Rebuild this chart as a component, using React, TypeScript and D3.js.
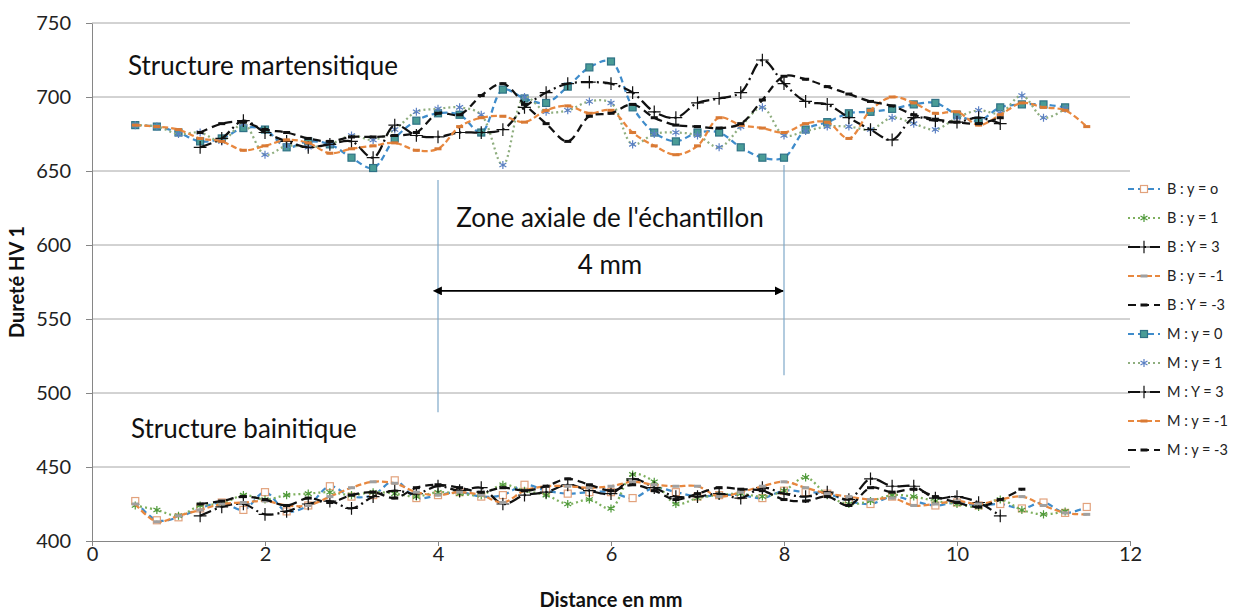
import { useEffect, useRef } from "react";
import * as d3 from "d3";

// distance (mm) of each hardness measurement
const DISTANCE = [
    0.5, 0.75, 1, 1.25, 1.5, 1.75, 2, 2.25, 2.5, 2.75, 3, 3.25, 3.5, 3.75, 4, 4.25,
    4.5, 4.75, 5, 5.25, 5.5, 5.75, 6, 6.25, 6.5, 6.75, 7, 7.25, 7.5, 7.75, 8, 8.25,
    8.5, 8.75, 9, 9.25, 9.5, 9.75, 10, 10.25, 10.5, 10.75, 11, 11.25, 11.5,
];

// bainitic structure
const B_Y0 = [427, 414, 416, 422, 426, 421, 433, 420, 424, 437, 430, 431, 441, 429, 431, 433, 430, 431, 438, 434, 432, 433, 433, 429, 436, 433, 430, 431, 431, 429, 434, 433, 432, 427, 425, 430, 427, 424, 426, 424, 425, 422, 426, 419, 423];
const B_Y1 = [424, 421, 417, 424, 425, 431, 428, 431, 432, 433, 431, 433, 432, 430, 433, 432, 431, 438, 434, 431, 425, 428, 422, 445, 440, 425, 429, 431, 432, 430, 434, 443, 431, 425, 427, 431, 430, 427, 425, 423, 428, 421, 418, 420, null];
const B_Y3 = [null, null, null, 417, 423, 425, 418, 420, 425, 427, 422, 430, 434, 432, 437, 434, 436, 425, 431, 433, 438, 434, 432, 442, 436, 430, 430, 432, 429, 436, 432, 430, 433, 428, 442, 437, 437, 429, 430, 426, 417, null, null, null, null];
const B_YM1 = [425, 413, 417, 421, 425, 426, 427, 424, 424, 430, 436, 440, 439, 433, 431, 433, 431, 426, 434, 437, 437, 436, 437, 440, 438, 437, 437, 430, 433, 437, 440, 436, 432, 430, 428, 429, 424, 425, 427, 425, 428, 430, 424, 419, 418];
const B_YM3 = [null, null, null, 425, 427, 430, 428, 424, 429, 426, 431, 433, 429, 436, 438, 436, 433, 436, 434, 437, 442, 438, 434, 438, 434, 428, 432, 436, 435, 434, 428, 427, 430, 424, 436, 433, 435, 430, 426, 423, 428, 435, null, null, null];

// martensitic structure
const M_Y0 = [681, 680, 676, 670, 672, 679, 678, 666, 670, 668, 659, 652, 672, 684, 689, 688, 676, 705, 699, 696, 707, 720, 724, 693, 676, 670, 676, 676, 666, 659, 659, 678, 683, 689, 690, 692, 695, 696, 688, 684, 693, 695, 695, 693, null];
const M_Y1 = [681, 680, 675, 676, 670, 682, 661, 667, 666, 668, 674, 671, 678, 690, 692, 693, 688, 654, 700, 690, 691, 697, 696, 668, 675, 676, 674, 666, 680, 693, 674, 677, 680, 680, 678, 686, 682, 678, 686, 691, 689, 701, 686, 692, null];
const M_Y3 = [null, null, null, 666, 672, 684, 676, 670, 666, 668, 670, 659, 681, 674, 673, 676, 676, 678, 693, 703, 709, 710, 709, 703, 690, 686, 696, 699, 703, 725, 709, 697, 695, 686, 678, 671, 686, 684, 683, 686, 682, null, null, null, null];
const M_YM1 = [681, 680, 678, 672, 670, 664, 667, 671, 669, 662, 665, 667, 669, 664, 665, 680, 686, 687, 683, 691, 694, 689, 691, 676, 667, 661, 667, 686, 681, 679, 676, 682, 683, 672, 691, 700, 696, 689, 690, 681, 688, 696, 693, 691, 680];
const M_YM3 = [null, null, null, 676, 682, 683, 678, 676, 672, 670, 673, 673, 674, 676, 689, 688, 701, 709, 695, 682, 670, 687, 689, 695, 686, 681, 680, 679, 682, 698, 714, 712, 707, 702, 697, 694, 688, 685, 683, 682, 686, null, null, null, null];

const SERIES_NAMES = ["B : y = o", "B : y = 1", "B : Y = 3", "B : y = -1", "B : Y = -3", "M : y = 0", "M : y = 1", "M : Y = 3", "M : y = -1", "M : y = -3"];
const SERIES_VALUES = [B_Y0, B_Y1, B_Y3, B_YM1, B_YM3, M_Y0, M_Y1, M_Y3, M_YM1, M_YM3];

const Y_TICKS = [400, 450, 500, 550, 600, 650, 700, 750];
const X_TICKS = [0, 2, 4, 6, 8, 10, 12];

const FONT = "Lato, 'Open Sans', sans-serif";

// line + marker style per series
const STYLES = [
    { color: "#3f8ccb", dash: "6,4", marker: "square", mColor: "#e2a27c", mFill: "#fff" },
    { color: "#7fb05f", dash: "2,3", marker: "asterisk", mColor: "#4f9a3a", mFill: "none" },
    { color: "#111", dash: "12,4,2,4", marker: "plus", mColor: "#111", mFill: "none" },
    { color: "#e8883f", dash: "6,3", marker: "bar", mColor: "#a0a0a0", mFill: "#a0a0a0" },
    { color: "#111", dash: "8,5", marker: "bar", mColor: "#111", mFill: "#111" },
    { color: "#3f8ccb", dash: "6,4", marker: "square", mColor: "#2f7286", mFill: "#4a9c96" },
    { color: "#8fae7f", dash: "2,3", marker: "asterisk", mColor: "#5b80c4", mFill: "none" },
    { color: "#111", dash: "12,4,2,4", marker: "plus", mColor: "#111", mFill: "none" },
    { color: "#e8883f", dash: "6,3", marker: "bar", mColor: "#d97a35", mFill: "#d97a35" },
    { color: "#111", dash: "8,5", marker: "bar", mColor: "#111", mFill: "#111" },
];

export default function App() {
    const svgRef = useRef<SVGSVGElement>(null);

    useEffect(() => {
        if (!svgRef.current) return;
        const svg = d3.select(svgRef.current);
        svg.selectAll("*").remove();

        const width = 1239;
        const height = 612;
        const plot = { left: 92, right: 1130, top: 23, bottom: 541 };

        const x = d3.scaleLinear().domain([0, 12]).range([plot.left, plot.right]);
        const y = d3.scaleLinear().domain([400, 750]).range([plot.bottom, plot.top]);

        svg.append("rect").attr("width", width).attr("height", height).style("fill", "#fff");

        // arrowheads
        const defs = svg.append("defs");
        ["start", "end"].forEach((k) => {
            defs.append("marker")
                .attr("id", `arrow-${k}`)
                .attr("viewBox", "0 0 10 10")
                .attr("refX", k === "end" ? 9 : 1)
                .attr("refY", 5)
                .attr("markerWidth", 9)
                .attr("markerHeight", 9)
                .attr("markerUnits", "userSpaceOnUse")
                .attr("orient", "auto-start-reverse")
                .append("path")
                .attr("d", "M0,0 L10,5 L0,10 z")
                .style("fill", "#000");
        });

        // Gridlines
        svg.append("g")
            .selectAll("line")
            .data(Y_TICKS.filter((t) => t > 400))
            .enter()
            .append("line")
            .attr("x1", plot.left)
            .attr("x2", plot.right)
            .attr("y1", (d) => y(d))
            .attr("y2", (d) => y(d))
            .style("stroke", "#a6a6a6")
            .style("stroke-width", 1);

        // Axes
        const yAxis = svg.append("g")
            .attr("transform", `translate(${plot.left},0)`)
            .call(d3.axisLeft(y).tickValues(Y_TICKS).tickSize(6).tickPadding(15).tickSizeOuter(0));
        const xAxis = svg.append("g")
            .attr("transform", `translate(0,${plot.bottom})`)
            .call(d3.axisBottom(x).tickValues(X_TICKS).tickSize(5).tickPadding(1).tickSizeOuter(0));
        [yAxis, xAxis].forEach((ax) => {
            ax.select(".domain").style("stroke", "#868686");
            ax.selectAll(".tick line").style("stroke", "#868686");
            ax.selectAll(".tick text")
                .style("font-family", FONT)
                .style("font-size", "20px")
                .style("fill", "#222");
        });

        // Axis titles
        svg.append("text")
            .attr("transform", `translate(24,${(plot.top + plot.bottom) / 2}) rotate(-90)`)
            .attr("text-anchor", "middle")
            .style("font-family", FONT)
            .style("font-size", "20px")
            .style("font-weight", "700")
            .style("fill", "#111")
            .text("Dureté HV 1");

        svg.append("text")
            .attr("x", (plot.left + plot.right) / 2)
            .attr("y", 607)
            .attr("text-anchor", "middle")
            .style("font-family", FONT)
            .style("font-size", "20px")
            .style("font-weight", "700")
            .style("fill", "#111")
            .text("Distance en mm");

        // Annotations
        const note = (tx: number, ty: number, txt: string, anchor = "start") =>
            svg.append("text")
                .attr("x", tx)
                .attr("y", ty)
                .attr("text-anchor", anchor)
                .style("font-family", FONT)
                .style("font-size", "26px")
                .style("fill", "#111")
                .text(txt);

        note(128, 75, "Structure martensitique");
        note(131, 438, "Structure bainitique");
        note(610, 227, "Zone axiale de l'échantillon", "middle");
        note(610, 274, "4 mm", "middle");

        svg.append("line")
            .attr("x1", x(4)).attr("x2", x(4))
            .attr("y1", y(644)).attr("y2", y(487))
            .style("stroke", "#7fa8c9").style("stroke-width", 1.2);
        svg.append("line")
            .attr("x1", x(8)).attr("x2", x(8))
            .attr("y1", y(654)).attr("y2", y(512))
            .style("stroke", "#7fa8c9").style("stroke-width", 1.2);
        svg.append("line")
            .attr("x1", x(4) + 3).attr("x2", x(8) - 1)
            .attr("y1", y(569)).attr("y2", y(569))
            .attr("marker-start", "url(#arrow-start)")
            .attr("marker-end", "url(#arrow-end)")
            .style("stroke", "#000").style("stroke-width", 1.8);

        // markers
        const drawMarker = (g: any, type: string, cx: number, cy: number, st: any) => {
            if (type === "square") {
                g.append("rect")
                    .attr("x", cx - 3.5).attr("y", cy - 3.5)
                    .attr("width", 7).attr("height", 7)
                    .style("fill", st.mFill).style("stroke", st.mColor).style("stroke-width", 1.2);
            } else if (type === "bar") {
                g.append("rect")
                    .attr("x", cx - 3.5).attr("y", cy - 1.5)
                    .attr("width", 7).attr("height", 3)
                    .style("fill", st.mFill);
            } else {
                const sym = type === "plus" ? d3.symbolPlus : d3.symbolAsterisk;
                g.append("path")
                    .attr("transform", `translate(${cx},${cy})`)
                    .attr("d", d3.symbol().type(sym).size(type === "plus" ? 55 : 45)())
                    .style("fill", "none").style("stroke", st.mColor).style("stroke-width", 1.2);
            }
        };

        // Series lines
        const line = d3.line<number | null>()
            .defined((d) => d != null)
            .x((_, i) => x(DISTANCE[i]))
            .y((d) => y(d as number))
            .curve(d3.curveCatmullRom.alpha(0.5));

        SERIES_VALUES.forEach((vals, si) => {
            const st = STYLES[si];
            const g = svg.append("g");
            g.append("path")
                .attr("d", line(vals))
                .style("fill", "none")
                .style("stroke", st.color)
                .style("stroke-width", 2.25)
                .style("stroke-dasharray", st.dash);
            vals.forEach((v, i) => {
                if (v == null) return;
                drawMarker(g, st.marker, x(DISTANCE[i]), y(v), st);
            });
        });

        // Legend
        const legend = svg.append("g");
        SERIES_NAMES.forEach((name, i) => {
            const st = STYLES[i];
            const ly = 189 + i * 29;
            const lg = legend.append("g");
            lg.append("line")
                .attr("x1", 1128).attr("x2", 1160)
                .attr("y1", ly).attr("y2", ly)
                .style("stroke", st.color)
                .style("stroke-width", 2)
                .style("stroke-dasharray", st.dash);
            drawMarker(lg, st.marker, 1144, ly, st);
            lg.append("text")
                .attr("x", 1167)
                .attr("y", ly + 5)
                .style("font-family", FONT)
                .style("font-size", "14.5px")
                .style("fill", "#222")
                .text(name);
        });
    }, []);

    return (
        <svg
            ref={svgRef}
            width={1239}
            height={612}
            style={{ position: "absolute", left: 0, top: 0, display: "block" }}
        />
    );
}
